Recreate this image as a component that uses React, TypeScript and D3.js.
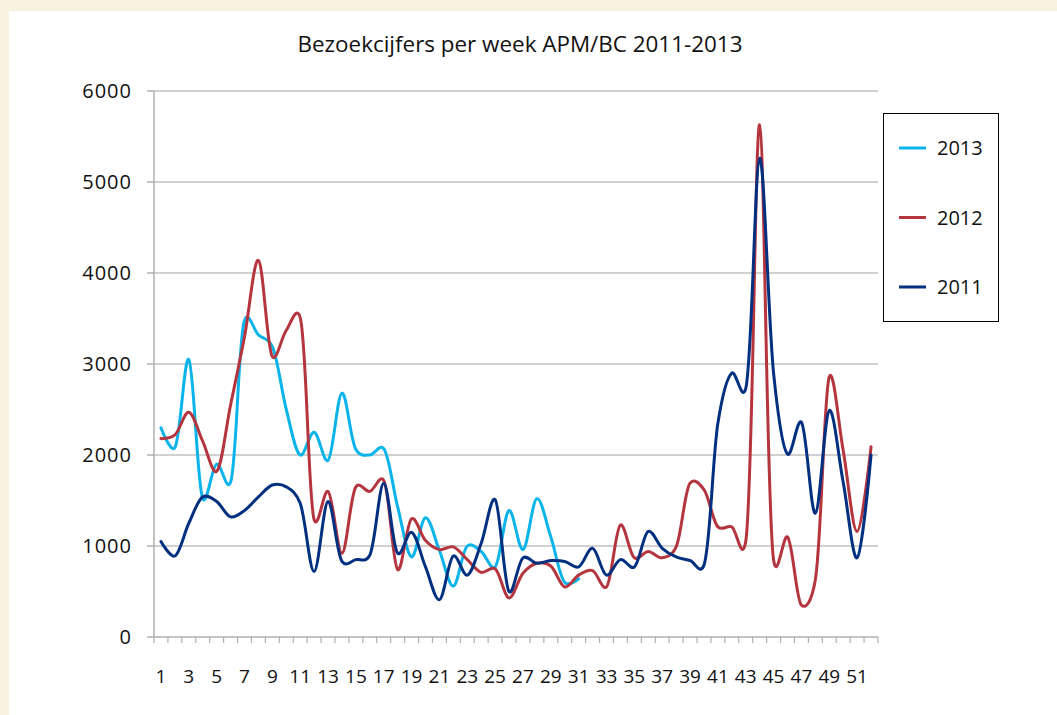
import React from "react";
import * as d3 from "d3";

const weeks: number[] = Array.from({ length: 52 }, (_, i) => i + 1);
const yTicks: number[] = [0, 1000, 2000, 3000, 4000, 5000, 6000];
const seriesNames: string[] = ["2013", "2012", "2011"];
const seriesColors: string[] = ["#0ab4ea", "#b5353f", "#00307f"];

const v2013: number[] = [2300, 2080, 3050, 1520, 1900, 1700, 3480, 3320, 3190, 2500, 2000, 2250, 1940, 2680, 2060, 2000, 2070, 1430, 880, 1310, 950, 560, 1000, 940, 770, 1390, 960, 1520, 1100, 600, 640];
const v2012: number[] = [2180, 2220, 2470, 2150, 1820, 2550, 3300, 4140, 3080, 3370, 3510, 1290, 1600, 920, 1650, 1600, 1720, 740, 1300, 1060, 960, 990, 850, 710, 750, 430, 700, 810, 780, 550, 680, 730, 550, 1230, 870, 940, 870, 990, 1690, 1620, 1210, 1210, 1050, 5630, 850, 1100, 350, 630, 2860, 2050, 1160, 2090];
const v2011: number[] = [1050, 890, 1250, 1540, 1490, 1320, 1390, 1540, 1670, 1650, 1470, 720, 1490, 830, 850, 900, 1690, 920, 1150, 770, 410, 890, 680, 1030, 1510, 500, 870, 810, 840, 830, 770, 975, 680, 850, 770, 1160, 975, 880, 840, 790, 2350, 2900, 2730, 5260, 2900, 2010, 2360, 1360, 2490, 1700, 870, 2000];

const W = 1057;
const H = 715;
const left = 154;
const right = 878;
const top = 91;
const bottom = 637;
const FONT = "'Open Sans', 'Noto Sans', sans-serif";

export default function App() {
  const x = d3.scaleLinear().domain([0.5, 52.5]).range([left, right]);
  const y = d3.scaleLinear().domain([0, 6000]).range([bottom, top]);
  const line = d3
    .line<number>()
    .x((_, i) => x(i + 1))
    .y((d) => y(d))
    .curve(d3.curveCatmullRom.alpha(0.2));

  const allSeries = [v2013, v2012, v2011];
  const boundaries = d3.range(0, 53).map((i) => i + 0.5);

  return (
    <svg
      width={W}
      height={H}
      style={{ position: "absolute", left: 0, top: 0, display: "block" }}
    >
      <rect x={0} y={0} width={W} height={H} fill="#f8f1dd" />
      <rect x={9} y={11} width={W - 9} height={H - 11} fill="#ffffff" />
      <text
        x={520}
        y={52}
        textAnchor="middle"
        fontFamily={FONT}
        fontSize={21}
        fill="#111"
        textLength={445}
        lengthAdjust="spacingAndGlyphs"
      >
        Bezoekcijfers per week APM/BC 2011-2013
      </text>

      {yTicks.map((t) => (
        <g key={t}>
          {t > 0 && (
            <line x1={left} x2={right} y1={y(t)} y2={y(t)} stroke="#c2c2c2" strokeWidth={1.5} />
          )}
          <line x1={left - 7} x2={left} y1={y(t)} y2={y(t)} stroke="#b0b0b0" strokeWidth={1.5} />
          <text
            x={132}
            y={y(t)}
            dy="0.36em"
            textAnchor="end"
            fontFamily={FONT}
            fontSize={20}
            letterSpacing={1}
            fill="#111"
          >
            {t}
          </text>
        </g>
      ))}

      <line x1={left} x2={left} y1={top} y2={bottom} stroke="#b0b0b0" strokeWidth={1.5} />
      <line x1={left} x2={right} y1={bottom} y2={bottom} stroke="#b0b0b0" strokeWidth={1.5} />
      {boundaries.map((b) => (
        <line key={b} x1={x(b)} x2={x(b)} y1={bottom} y2={bottom + 6} stroke="#b0b0b0" strokeWidth={1.2} />
      ))}
      {weeks
        .filter((w) => w % 2 === 1)
        .map((w) => (
          <text
            key={w}
            x={x(w)}
            y={676}
            dy="0.36em"
            textAnchor="middle"
            fontFamily={FONT}
            fontSize={19}
            fill="#111"
          >
            {w}
          </text>
        ))}

      {allSeries.map((s, k) => (
        <path
          key={seriesNames[k]}
          d={line(s) || ""}
          fill="none"
          stroke={seriesColors[k]}
          strokeWidth={3}
          strokeLinejoin="round"
          strokeLinecap="round"
        />
      ))}

      <rect x={883.5} y={113.5} width={115} height={208} fill="#fff" stroke="#000" strokeWidth={1} />
      {seriesNames.map((n, k) => {
        const ly = 148 + k * 69.5;
        return (
          <g key={n}>
            <line x1={899} x2={926} y1={ly} y2={ly} stroke={seriesColors[k]} strokeWidth={3} />
            <text x={937} y={ly} dy="0.36em" fontFamily={FONT} fontSize={20} fill="#111">
              {n}
            </text>
          </g>
        );
      })}
    </svg>
  );
}
